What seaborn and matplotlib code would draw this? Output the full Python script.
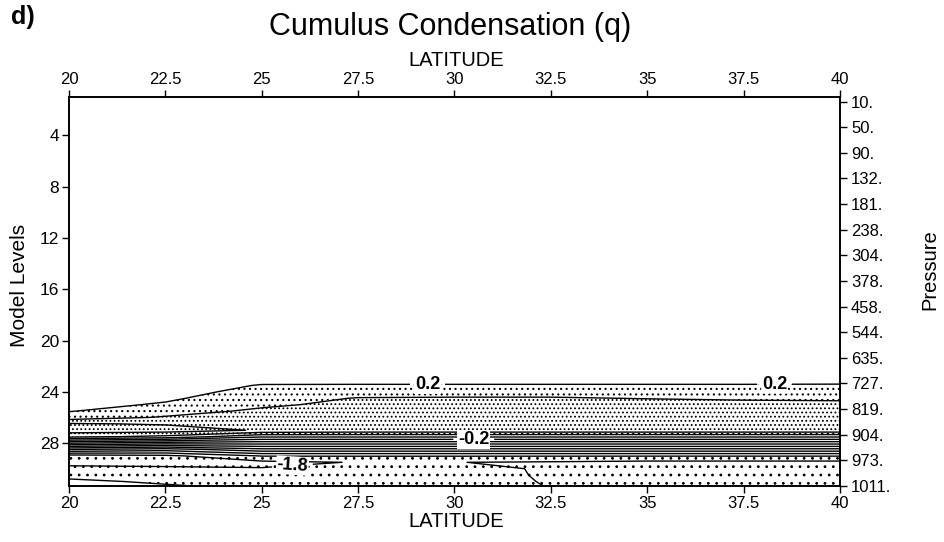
import numpy as np
import matplotlib
matplotlib.use("Agg")
import matplotlib.pyplot as plt
import seaborn as sns

# ---------------- data ----------------
LATS = [20, 22.5, 25, 27.5, 30, 32.5, 35, 37.5, 40]
LEVELS = [1, 20, 22, 23, 23.5, 24, 24.5, 25, 25.5, 26, 26.5, 27, 27.5,
          28, 28.5, 29, 29.5, 30, 30.5, 31, 31.35]

# cumulus condensation values per latitude column (top -> bottom model level)
q_20_0 = [0.05, 0.05, 0.06, 0.07, 0.08, 0.09, 0.11, 0.14, 0.19, 0.30, 0.62, 0.70, 0.45,
          -0.38, -1.20, -1.90, -1.86, -1.75, -1.66, -1.56, -1.50]
q_22_5 = [0.05, 0.06, 0.08, 0.10, 0.11, 0.13, 0.17, 0.22, 0.31, 0.42, 0.58, 0.70, 0.35,
          -0.50, -1.30, -1.85, -1.84, -1.78, -1.70, -1.63, -1.58]
q_25_0 = [0.06, 0.07, 0.09, 0.14, 0.21, 0.26, 0.31, 0.36, 0.44, 0.48, 0.50, 0.58, 0.03,
          -0.52, -1.06, -1.59, -1.85, -1.79, -1.72, -1.68, -1.65]
q_27_5 = [0.06, 0.07, 0.10, 0.15, 0.21, 0.30, 0.41, 0.46, 0.49, 0.51, 0.52, 0.55, 0.03,
          -0.52, -1.06, -1.59, -1.79, -1.76, -1.72, -1.70, -1.68]
q_30_0 = [0.06, 0.07, 0.10, 0.15, 0.21, 0.30, 0.42, 0.48, 0.50, 0.52, 0.52, 0.55, 0.03,
          -0.52, -1.06, -1.59, -1.797, -1.72, -1.70, -1.69, -1.68]
q_32_5 = [0.06, 0.07, 0.10, 0.15, 0.21, 0.30, 0.42, 0.48, 0.50, 0.52, 0.52, 0.55, 0.03,
          -0.52, -1.06, -1.59, -1.82, -1.83, -1.83, -1.82, -1.81]
q_35_0 = [0.06, 0.07, 0.10, 0.15, 0.21, 0.29, 0.39, 0.50, 0.51, 0.52, 0.52, 0.55, 0.03,
          -0.52, -1.06, -1.59, -1.85, -1.92, -1.95, -1.95, -1.94]
q_37_5 = [0.06, 0.07, 0.10, 0.15, 0.21, 0.28, 0.37, 0.47, 0.50, 0.52, 0.52, 0.55, 0.03,
          -0.52, -1.06, -1.59, -1.85, -1.92, -1.95, -1.95, -1.94]
q_40_0 = [0.06, 0.08, 0.10, 0.16, 0.21, 0.28, 0.36, 0.46, 0.50, 0.52, 0.52, 0.55, 0.03,
          -0.52, -1.06, -1.59, -1.85, -1.92, -1.95, -1.95, -1.94]

LAT_TICKS = [20, 22.5, 25, 27.5, 30, 32.5, 35, 37.5, 40]
LAT_TICK_LABELS = ["20", "22.5", "25", "27.5", "30", "32.5", "35", "37.5", "40"]
LEVEL_TICKS = [4, 8, 12, 16, 20, 24, 28]
PRESSURE_LABELS = ["10.", "50.", "90.", "132.", "181.", "238.", "304.", "378.",
                   "458.", "544.", "635.", "727.", "819.", "904.", "973.", "1011."]
LABELED_LEVELS = [0.2, -0.2, -1.8]

# ---------------- style ----------------
sns.set_theme(style="ticks")
plt.rcParams["font.family"] = ["Liberation Sans", "DejaVu Sans"]
plt.rcParams["hatch.color"] = "black"
plt.rcParams["hatch.linewidth"] = 0.8
plt.rcParams["text.color"] = "black"

fig = plt.figure(figsize=(9.45, 5.42), dpi=100)
ax = fig.add_axes([0.0730, 0.1033, 0.8159, 0.7177])

Z = np.column_stack([q_20_0, q_22_5, q_25_0, q_27_5, q_30_0,
                     q_32_5, q_35_0, q_37_5, q_40_0])
X, Y = np.meshgrid(LATS, LEVELS)

cf = ax.contourf(X, Y, Z, levels=[-5, -1.6, 0.2, 0.4, 5], colors="white",
                 hatches=["..", "", "...", "...."])
try:
    cf._hatch_color = matplotlib.colors.to_rgba("black")
except Exception:
    pass

all_levels = np.round(np.arange(-1.8, 0.61, 0.2), 1)
plain_levels = [lv for lv in all_levels
                if not any(abs(lv - l2) < 1e-6 for l2 in LABELED_LEVELS)]
ax.contour(X, Y, Z, levels=plain_levels, colors="black",
           linewidths=1.0, negative_linestyles="solid")

label_spots = {0.2: [(29.3, 23.45), (38.3, 23.45)],
               -0.2: [(30.5, 27.72)],
               -1.8: [(25.8, 29.95)]}
txts = []
for lv in LABELED_LEVELS:
    csl = ax.contour(X, Y, Z, levels=[lv], colors="black",
                     linewidths=1.0, negative_linestyles="solid")
    txts += csl.clabel(manual=label_spots[lv], fmt="%.1f", fontsize=13,
                       inline=True, inline_spacing=5)
for t in txts:
    t.set_fontweight("bold")
    t.set_color("black")
    t.set_bbox(dict(facecolor="white", edgecolor="none", pad=0.5))

ax.set_xlim(20, 40)
ax.set_ylim(31.35, 1)
ax.set_xticks(LAT_TICKS)
ax.set_xticklabels(LAT_TICK_LABELS)
ax.set_yticks(LEVEL_TICKS)
ax.tick_params(axis="x", top=True, labeltop=True, bottom=True, direction="out",
               length=5, width=1, labelsize=12, colors="black", pad=2)
ax.tick_params(axis="y", direction="out", length=5, width=1, labelsize=12.5,
               colors="black", pad=2)
for sp in ax.spines.values():
    sp.set_color("black")
    sp.set_linewidth(1.2)

ax2 = ax.twinx()
ax2.set_ylim(31.35, 1)
ax2.set_yticks(np.linspace(1.35, 31.35, len(PRESSURE_LABELS)))
ax2.set_yticklabels(PRESSURE_LABELS)
ax2.tick_params(axis="y", direction="out", length=5, width=1, labelsize=12,
                colors="black", pad=3)
for sp in ax2.spines.values():
    sp.set_color("black")
    sp.set_linewidth(1.2)

fig.text(0.476, 0.950, "Cumulus Condensation (q)", ha="center", va="center",
         fontsize=22, color="black")
fig.text(0.012, 0.968, "d)", ha="left", va="center", fontsize=18,
         fontweight="bold", color="black")
fig.text(0.483, 0.889, "LATITUDE", ha="center", va="center", fontsize=14.5,
         color="black")
fig.text(0.483, 0.037, "LATITUDE", ha="center", va="center", fontsize=14.5,
         color="black")
fig.text(0.021, 0.474, "Model Levels", ha="center", va="center", fontsize=15,
         rotation=90, color="black")
fig.text(0.984, 0.502, "Pressure", ha="center", va="center", fontsize=14.5,
         rotation=90, color="black")

fig.savefig("out.png", dpi=100)
